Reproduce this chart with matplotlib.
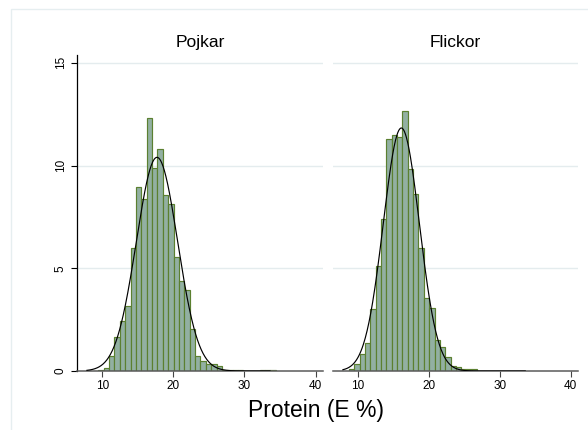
import numpy as np
import matplotlib
matplotlib.use("Agg")
from matplotlib import pyplot as plt
from matplotlib.patches import Rectangle

# percent of children per protein bin (E %), shared bins for both groups
BIN_START = 8.69
BIN_WIDTH = 0.756
pojkar_pct = [0.02, 0.05, 0.13, 0.73, 1.64, 2.45, 3.17, 5.97, 8.94, 8.36,
              12.3, 9.87, 10.8, 8.55, 8.13, 5.54, 4.4, 3.95, 2.02, 0.72,
              0.5, 0.33, 0.36, 0.25, 0.05, 0.05, 0.07, 0.07, 0.0, 0.0,
              0.0, 0.07, 0.07, 0.07]
flickor_pct = [0.1, 0.34, 0.83, 1.35, 3.0, 5.1, 7.38, 11.29, 11.47, 11.37,
               12.67, 9.81, 8.6, 5.97, 3.57, 3.05, 1.5, 1.18, 0.67, 0.23,
               0.18, 0.12, 0.12, 0.1]

# fitted normal curves (mean, sd)
pojkar_fit = (17.7, 2.9)
flickor_fit = (16.1, 2.55)
fit_range = (7.85, 33.6)

titles = ["Pojkar", "Flickor"]
xticks = [10, 20, 30, 40]
yticks = [0, 5, 10, 15]

FILL = "#92b0a2"
EDGE = "#5b8030"
GRID = "#e4ecee"

W, H = 588, 430


def px_axes(fig, x0, x1, y_top, y_bot):
    return fig.add_axes([x0 / W, 1 - y_bot / H, (x1 - x0) / W, (y_bot - y_top) / H])


def normal_pct(x, mu, sd):
    return 100 * BIN_WIDTH * np.exp(-0.5 * ((x - mu) / sd) ** 2) / (sd * np.sqrt(2 * np.pi))


def draw_panel(ax, pct, fit, title, show_y):
    edges = BIN_START + BIN_WIDTH * np.arange(len(pct))
    ax.set_xlim(6.45, 41.05)
    ax.set_ylim(0, 15.38)
    for y in yticks[1:]:
        ax.axhline(y, color=GRID, lw=1.0, zorder=0)
    ax.bar(edges, pct, width=BIN_WIDTH, align="edge", color=FILL,
           edgecolor=EDGE, linewidth=0.85, zorder=2)
    xs = np.linspace(fit_range[0], fit_range[1], 400)
    ax.plot(xs, normal_pct(xs, *fit), color="black", lw=0.85, zorder=3)

    for s in ["top", "right"]:
        ax.spines[s].set_visible(False)
    ax.spines["bottom"].set_color("#5a5a5a")
    ax.spines["bottom"].set_linewidth(1.1)
    ax.set_xticks(xticks)
    ax.tick_params(axis="x", length=4, width=0.8, color="#444444",
                   labelsize=8.5, pad=2.5)
    if show_y:
        ax.spines["left"].set_color("black")
        ax.spines["left"].set_linewidth(0.9)
        ax.set_yticks(yticks)
        ax.set_yticklabels([str(t) for t in yticks], rotation=90, va="center")
        ax.tick_params(axis="y", length=4, width=0.8, labelsize=8.5, pad=3.5)
    else:
        ax.spines["left"].set_visible(False)
        ax.set_yticks([])
    ax.set_title(title, fontsize=12.5, pad=6)
    ax.patch.set_alpha(0)


plt.rcParams["font.family"] = ["Liberation Sans", "DejaVu Sans"]
fig = plt.figure(figsize=(W / 100, H / 100), dpi=100)

# faint outer frame of the graph region
fig.patches.append(Rectangle((10.5 / W, -0.1), 1.2, 1 - 9.3 / H + 0.1,
                             transform=fig.transFigure, fill=False,
                             edgecolor="#e6eef0", lw=1.0))

ax1 = px_axes(fig, 77, 323, 55, 371)
ax2 = px_axes(fig, 333, 578, 55, 371)
draw_panel(ax1, pojkar_pct, pojkar_fit, titles[0], True)
draw_panel(ax2, flickor_pct, flickor_fit, titles[1], False)

fig.text(316 / W, 13 / H, "Protein (E %)", ha="center", va="baseline", fontsize=16.5)

fig.savefig("out.png", dpi=100)
